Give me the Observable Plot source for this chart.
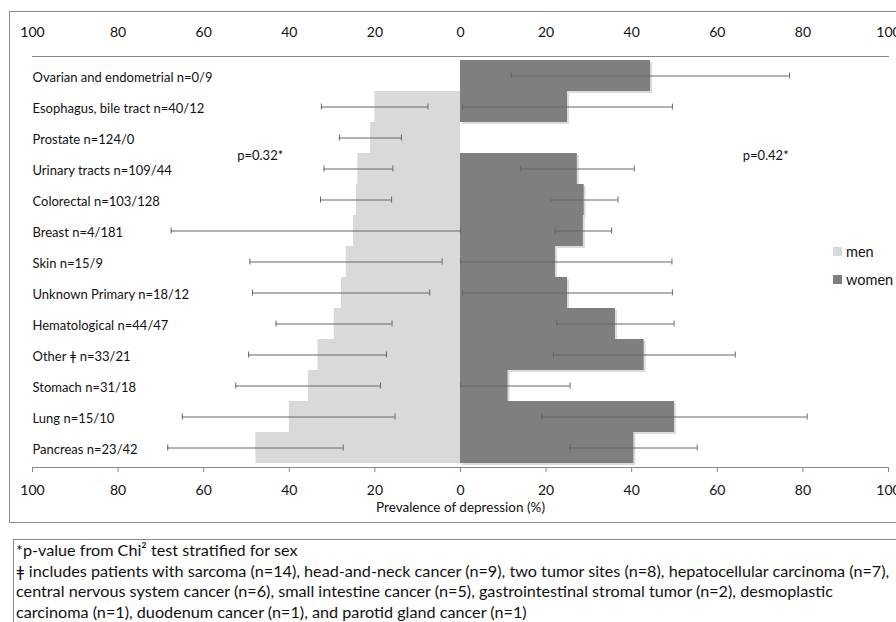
<!DOCTYPE html>
<html><head><meta charset="utf-8">
<script src="https://cdn.jsdelivr.net/npm/d3@7"></script>
<script src="https://cdn.jsdelivr.net/npm/@observablehq/plot@0.6"></script>
<style>
body{margin:0;background:#fff;font-family:Lato,"Open Sans",sans-serif;color:#111;}
#wrap{position:relative;width:896px;height:622px;overflow:hidden;background:#fff;}
#box{position:absolute;left:9px;top:11px;width:920px;height:512px;border:1.5px solid #8c8c8c;box-sizing:border-box;}
#chart{position:absolute;left:0;top:0;}
#notes{position:absolute;left:13px;top:539px;width:920px;height:120px;border:1.5px solid #8c8c8c;box-sizing:border-box;padding:0 0 0 2px;font-size:16.2px;line-height:20.5px;white-space:nowrap;}
.leg{position:absolute;font-size:14.5px;display:flex;align-items:center;}
.leg span.sw{display:inline-block;width:9px;height:9px;margin-right:4px;}
</style></head>
<body><div id="wrap">
<div id="box"></div>
<div id="chart"></div>
<div class="leg" style="left:833px;top:243px;"><span class="sw" style="background:#d9d9d9"></span>men</div>
<div class="leg" style="left:833px;top:271px;"><span class="sw" style="background:#7f7f7f"></span>women</div>
<div id="notes"></div>
</div>
<script>
const categories = [
  "Ovarian and endometrial n=0/9",
  "Esophagus, bile tract n=40/12",
  "Prostate n=124/0",
  "Urinary tracts n=109/44",
  "Colorectal n=103/128",
  "Breast n=4/181",
  "Skin n=15/9",
  "Unknown Primary n=18/12",
  "Hematological n=44/47",
  "Other ǂ n=33/21",
  "Stomach n=31/18",
  "Lung n=15/10",
  "Pancreas n=23/42"
];
const menValues   = [0, 20, 21, 24, 24.3, 25, 26.7, 27.8, 29.5, 33.3, 35.5, 40, 47.8];
const menLow      = [null, 7.6, 13.8, 15.8, 16.1, 0, 4.3, 7.2, 16.0, 17.3, 18.7, 15.3, 27.4];
const menHigh     = [null, 32.5, 28.3, 31.9, 32.7, 67.6, 49.2, 48.6, 43.1, 49.5, 52.5, 65, 68.4];
const womenValues = [44.4, 25, 0, 27.3, 28.9, 28.7, 22.2, 25, 36.2, 42.9, 11.1, 50, 40.5];
const womenLow    = [11.9, 0.5, null, 14.1, 21.1, 22.1, 0, 0.5, 22.5, 21.7, 0, 19.0, 25.6];
const womenHigh   = [76.9, 49.5, null, 40.6, 36.8, 35.3, 49.4, 49.5, 49.9, 64.2, 25.6, 81.0, 55.3];
const tickValues  = [-100, -80, -60, -40, -20, 0, 20, 40, 60, 80, 100];
const xLabel = "Prevalence of depression (%)";
const pNotes = [
  {label: "p=0.32*", x: -46.8, category: "Prostate n=124/0"},
  {label: "p=0.42*", x: 71.3, category: "Prostate n=124/0"}
];
const footnotes = [
  "*p-value from Chi² test stratified for sex",
  "ǂ includes patients with sarcoma (n=14), head-and-neck cancer (n=9), two tumor sites (n=8), hepatocellular carcinoma (n=7),",
  "central nervous system cancer (n=6), small intestine cancer (n=5), gastrointestinal stromal tumor (n=2), desmoplastic",
  "carcinoma (n=1), duodenum cancer (n=1), and parotid gland cancer (n=1)"
];

const men = categories.map((c, i) => ({category: c, value: -menValues[i]}));
const women = categories.map((c, i) => ({category: c, value: womenValues[i]}));
const errs = [];
categories.forEach((c, i) => {
  if (menLow[i] != null) errs.push({category: c, lo: -menLow[i], hi: -menHigh[i]});
  if (womenLow[i] != null) errs.push({category: c, lo: womenLow[i], hi: womenHigh[i]});
});

const chart = Plot.plot({
  width: 896, height: 530,
  marginLeft: 32, marginRight: 8, marginTop: 56, marginBottom: 63,
  x: {domain: [-100, 100], axis: null},
  y: {domain: categories, padding: 0, axis: null},
  style: {fontFamily: "Lato, 'Open Sans', sans-serif", fontSize: "13px", color: "#111", background: "transparent", overflow: "visible"},
  marks: [
    Plot.barX(men, {x: "value", y: "category", fill: "#d9d9d9"}),
    Plot.barX(women, {x: "value", y: "category", fill: "#b0b0b0", fillOpacity: 0.45, dx: 2, dy: 2}),
    Plot.barX(women, {x: "value", y: "category", fill: "#7f7f7f"}),
    Plot.ruleY(errs, {x1: "lo", x2: "hi", y: "category", stroke: "#666", strokeWidth: 1}),
    Plot.tickX(errs, {x: "lo", y: "category", insetTop: 12.5, insetBottom: 12.5, stroke: "#666"}),
    Plot.tickX(errs, {x: "hi", y: "category", insetTop: 12.5, insetBottom: 12.5, stroke: "#666"}),
    Plot.text(categories, {y: d => d, frameAnchor: "left", textAnchor: "start", dy: 2, fontSize: 13, fill: "#111"}),
    Plot.text(pNotes, {x: "x", y: "category", text: "label", dy: 18, fontSize: 13, fill: "#111"}),
    Plot.frame({anchor: "top", stroke: "#888"}),
    Plot.frame({anchor: "bottom", stroke: "#888"}),
    Plot.axisX({anchor: "top", ticks: tickValues, tickFormat: d => Math.abs(d), tickSize: 0, tickPadding: 20, fontSize: 14, label: null}),
    Plot.axisX({anchor: "bottom", ticks: tickValues, tickFormat: d => Math.abs(d), tickSize: 5, tickPadding: 13, fontSize: 14, label: null, stroke: "#888"}),
    Plot.text([xLabel], {frameAnchor: "bottom", dy: 44, fontSize: 13.5, fill: "#111"})
  ]
});
document.getElementById("chart").appendChild(chart);
document.getElementById("notes").innerHTML = footnotes.map(t => `<div>${t}</div>`).join("");
</script>
</body></html>
